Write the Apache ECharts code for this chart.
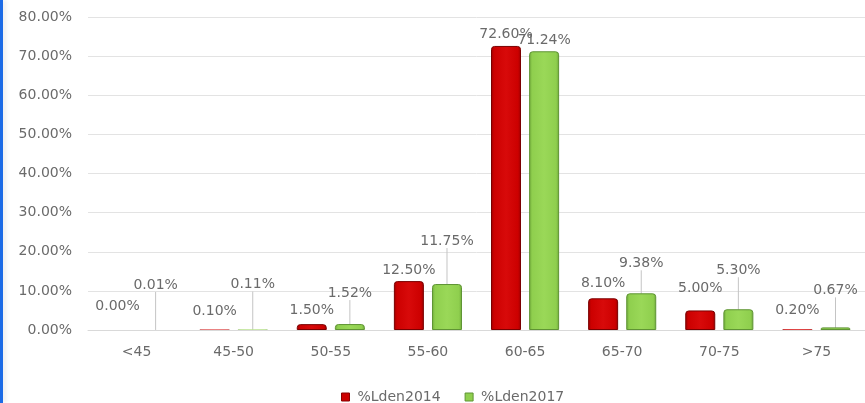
<!DOCTYPE html>
<html>
<head>
<meta charset="utf-8">
<script src="https://cdn.jsdelivr.net/npm/echarts@6/dist/echarts.min.js"></script>
<style>
  html, body { margin: 0; padding: 0; background: #ffffff; }
  #wrap { position: relative; width: 865px; height: 403px; overflow: hidden; }
  #strip { position: absolute; left: 0; top: 0; width: 3px; height: 403px; background: #1c6be6;
           box-shadow: 2px 0 5px rgba(0,0,0,0.12); z-index: 2; }
  #chart { position: absolute; left: 0; top: 0; width: 865px; height: 403px; }
</style>
</head>
<body>
<div id="wrap">
  <div id="strip"></div>
  <div id="chart"></div>
</div>
<script>
// Noise level bands (dB) and share of population per band
const categories = ['<45', '45-50', '50-55', '55-60', '60-65', '65-70', '70-75', '>75'];
const lden2014 = [0.00, 0.10, 1.50, 12.50, 72.60, 8.10, 5.00, 0.20];
const lden2017 = [0.01, 0.11, 1.52, 11.75, 71.24, 9.38, 5.30, 0.67];
const seriesNames = ['%Lden2014', '%Lden2017'];
const yTicks = { min: 0, max: 80, interval: 10 };

// Extra lift (px) of each data label above its bar; lifted 2017 labels get a leader line
const raise2014 = [13, 7, 3, 0, 1, 4, 11, 8];
const raise2017 = [34, 34, 20, 32, 0, 19, 28, 26];

const FONT = 'DejaVu Sans';
const TEXT = '#6a6a6a';

function barGradient(edge, mid, light) {
  return new echarts.graphic.LinearGradient(0, 0, 1, 0, [
    { offset: 0, color: edge },
    { offset: 0.1, color: mid },
    { offset: 0.5, color: light },
    { offset: 0.9, color: mid },
    { offset: 1, color: edge }
  ]);
}

// Thin bars (< 1 px tall) get no outline so they stay invisible
function makeSeries(name, values, raise, fill, border, withLines) {
  return {
    name: name,
    type: 'bar',
    barWidth: 30,
    barGap: '27%',
    itemStyle: {
      color: fill,
      borderColor: border,
      borderWidth: 1,
      borderRadius: [3, 3, 0, 0]
    },
    label: {
      show: true,
      position: 'top',
      distance: 4,
      color: TEXT,
      fontFamily: FONT,
      fontSize: 14,
      formatter: p => p.value.toFixed(2) + '%'
    },
    labelLine: {
      show: withLines,
      lineStyle: { color: '#c4c4c4', width: 1 }
    },
    labelLayout: p => ({ dy: -raise[p.dataIndex] }),
    data: values.map((v, i) => ({
      value: v,
      itemStyle: v < 0.5 ? { borderWidth: 0 } : undefined,
      labelLine: { show: withLines && raise[i] > 0 }
    }))
  };
}

const chart = echarts.init(document.getElementById('chart'), null, { renderer: 'canvas' });
chart.setOption({
  animation: false,
  backgroundColor: '#ffffff',
  color: ['#cc0000', '#8fcf4e'],
  grid: { left: 88, right: -7, top: 17, bottom: 73, containLabel: false },
  legend: {
    left: 336,
    top: 385,
    itemWidth: 8,
    itemHeight: 8,
    itemGap: 24,
    icon: 'rect',
    textStyle: { color: TEXT, fontFamily: FONT, fontSize: 14, padding: [0, 0, 0, 3] },
    data: [
      { name: seriesNames[0], itemStyle: { color: '#cc0000', borderColor: '#8a0000', borderWidth: 1 } },
      { name: seriesNames[1], itemStyle: { color: '#8fcf4e', borderColor: '#5f9434', borderWidth: 1 } }
    ]
  },
  xAxis: {
    type: 'category',
    data: categories,
    axisLine: { show: true, lineStyle: { color: '#d9d9d9', width: 1 } },
    axisTick: { show: false },
    axisLabel: { color: TEXT, fontFamily: FONT, fontSize: 14, margin: 15 }
  },
  yAxis: {
    type: 'value',
    min: yTicks.min,
    max: yTicks.max,
    interval: yTicks.interval,
    axisLine: { show: false },
    axisTick: { show: false },
    splitLine: { lineStyle: { color: '#e3e3e3', width: 1 } },
    axisLabel: {
      color: TEXT, fontFamily: FONT, fontSize: 14, margin: 16,
      formatter: v => v.toFixed(2) + '%'
    }
  },
  series: [
    makeSeries(seriesNames[0], lden2014, raise2014,
      barGradient('#9a0000', '#cc0000', '#d80a0a'), '#7a0000', false),
    makeSeries(seriesNames[1], lden2017, raise2017,
      barGradient('#6fa83a', '#8fcf4e', '#9ad858'), '#5f9434', true)
  ]
});
</script>
</body>
</html>
